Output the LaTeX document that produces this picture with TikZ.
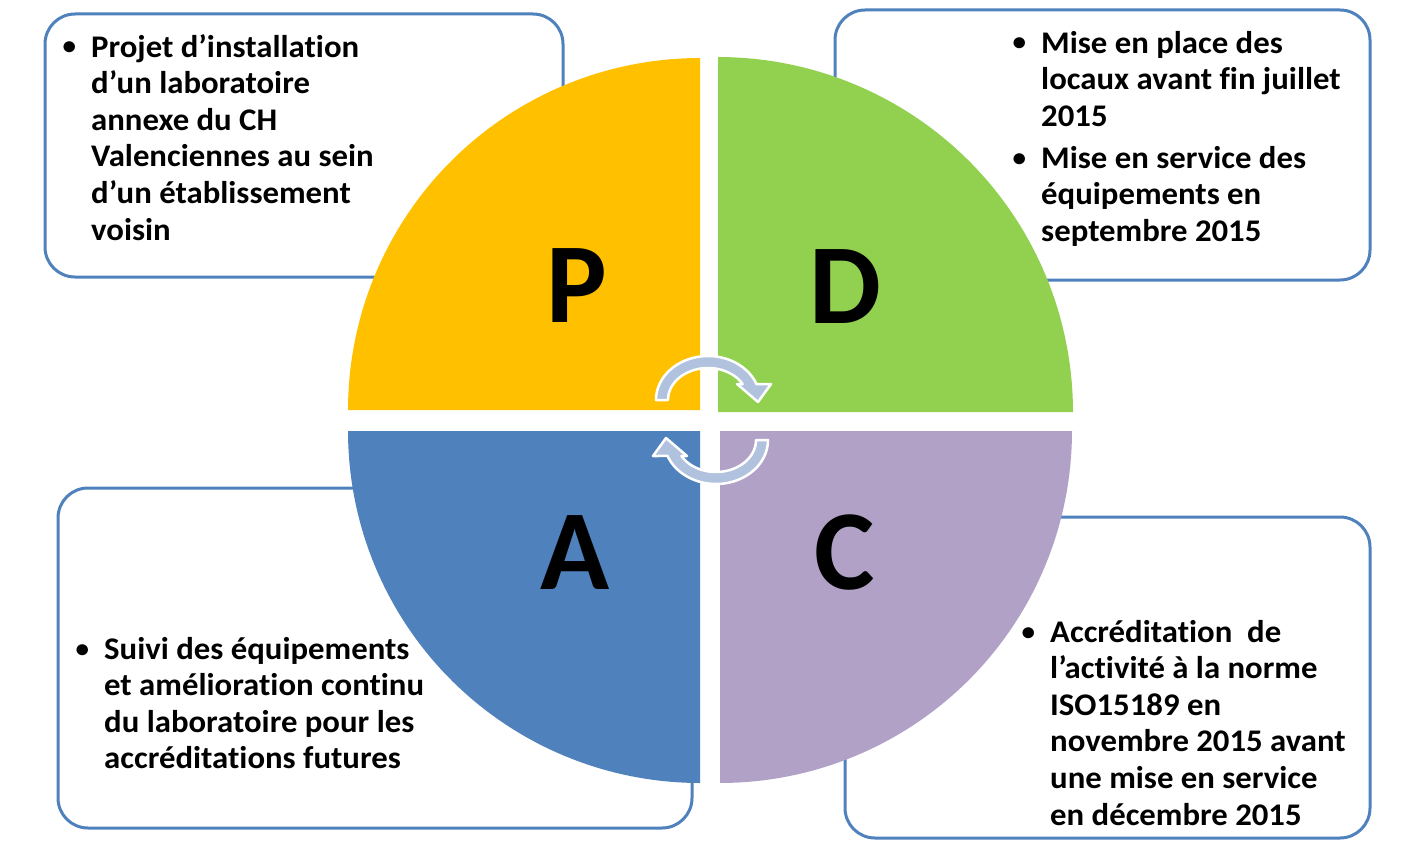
\documentclass[tikz,border=0pt]{standalone}
\usepackage{fontspec}
\setmainfont{Carlito}[Ligatures=NoCommon]
\newfontfamily\boxfont{Carlito}[Ligatures=NoCommon, FakeStretch=1.04]
\definecolor{qyel}{RGB}{255,192,0}
\definecolor{qgreen}{RGB}{146,208,80}
\definecolor{qblue}{RGB}{79,129,189}
\definecolor{qpurple}{RGB}{178,161,199}
\definecolor{boxline}{RGB}{79,129,189}
\definecolor{arrowfill}{RGB}{176,194,222}
\tikzset{
  infobox/.style={draw=boxline, line width=3pt, fill=white, rounded corners=30pt},
  bigletter/.style={inner sep=0pt, font=\fontsize{114}{120}\selectfont\bfseries},
  txt/.style={anchor=base west, inner sep=0pt, font=\boxfont\fontsize{31.5}{36.6}\selectfont\bfseries},
  cycarrow/.style={fill=arrowfill, draw=white, line width=2.5pt, line join=round}
}
\newcommand{\bul}{\llap{\raisebox{2pt}{\fontsize{26}{26}\selectfont\textbullet}\hspace{15pt}}}
\begin{document}
\begin{tikzpicture}[x=1pt,y=-1pt]
\useasboundingbox (0,0) rectangle (1420,843);
% boxes
\draw[infobox] (45,14) rectangle (563,277);
\draw[infobox] (835,10) rectangle (1370,280);
\draw[infobox] (58,488) rectangle (692,828);
\draw[infobox] (845,517) rectangle (1370,838);
% quadrants
\fill[qyel] (700,410) -- plot[domain=180:270, samples=80] ({700+352*cos(\x)},{410+352*sin(\x)}) -- cycle;
\fill[qgreen] (718,412) -- plot[domain=270:360, samples=80] ({718+355*cos(\x)},{412+355*sin(\x)}) -- cycle;
\fill[qpurple] (720,431) -- plot[domain=0:90, samples=80] ({720+352*cos(\x)},{431+352*sin(\x)}) -- cycle;
\fill[qblue] (700,431) -- plot[domain=90:180, samples=80] ({700+352*cos(\x)},{431+352*sin(\x)}) -- cycle;
% letters
\node[bigletter] (lP) at (577,286) {P};
\node[bigletter] (lD) at (845,287) {D};
\node[bigletter] (lA) at (575,553) {A};
\node[bigletter] (lC) at (845,553) {C};
% cycle arrows
\filldraw[cycarrow]
  plot[domain=180:338.7, samples=40] ({708+52*cos(\x)},{400+44*sin(\x)})
  -- (771,384) -- (758,402) -- (737,384)
  -- plot[domain=330:180, samples=40] ({708+40*cos(\x)},{400+32*sin(\x)}) -- cycle;
\begin{scope}[rotate around={180:(712,420)}]
\filldraw[cycarrow]
  plot[domain=180:338.7, samples=40] ({708+52*cos(\x)},{400+44*sin(\x)})
  -- (771,384) -- (758,402) -- (737,384)
  -- plot[domain=330:180, samples=40] ({708+40*cos(\x)},{400+32*sin(\x)}) -- cycle;
\end{scope}
% texts
\node[txt] (tP) at (91,57) {\begin{tabular}[t]{@{}l@{}}
\bul Projet d’installation\\
d’un laboratoire\\
annexe du CH\\
Valenciennes au sein\\
d’un établissement\\
voisin
\end{tabular}};
\node[txt] (tD) at (1041,53) {\begin{tabular}[t]{@{}l@{}}
\bul Mise en place des\\
locaux avant fin juillet\\
2015\\[5.5pt]
\bul Mise en service des\\
équipements en\\
septembre 2015
\end{tabular}};
\node[txt] (tA) at (104,659) {\begin{tabular}[t]{@{}l@{}}
\bul Suivi des équipements\\
et amélioration continu\\
du laboratoire pour les\\
accréditations futures
\end{tabular}};
\node[txt] (tC) at (1050,642) {\begin{tabular}[t]{@{}l@{}}
\bul Accréditation\ \ de\\
l’activité à la norme\\
ISO15189 en\\
novembre 2015 avant\\
une mise en service\\
en décembre 2015
\end{tabular}};
\end{tikzpicture}
\end{document}
